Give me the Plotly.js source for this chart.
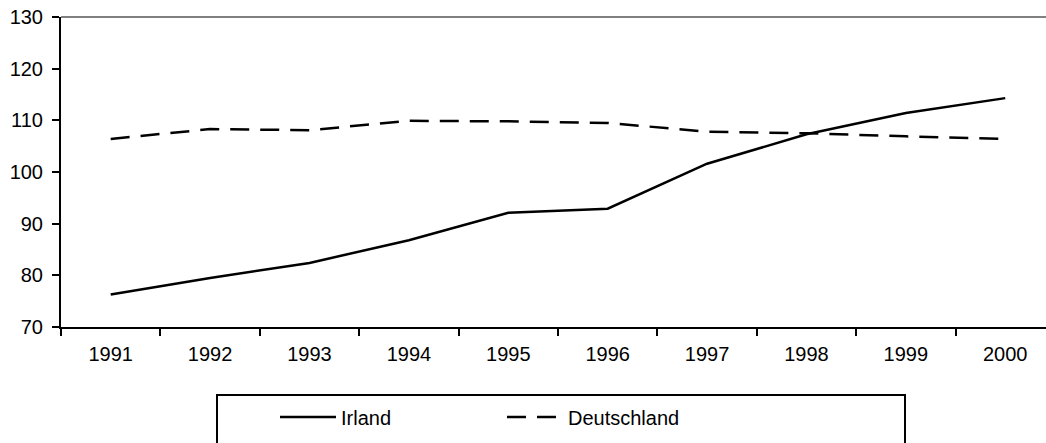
<!DOCTYPE html>
<html>
<head>
<meta charset="utf-8">
<script src="https://cdn.plot.ly/plotly-3.0.1.min.js"></script>
<style>html,body{margin:0;padding:0;background:#fff;}#chart{width:1046px;height:443px;}</style>
</head>
<body>
<div id="chart"></div>
<script>
const years = ["1991","1992","1993","1994","1995","1996","1997","1998","1999","2000"];
const irland = [76.3, 79.5, 82.4, 86.8, 92.1, 92.9, 101.6, 107.3, 111.4, 114.3];
const deutschland = [106.4, 108.3, 108.1, 109.9, 109.8, 109.5, 107.8, 107.5, 106.9, 106.4];
const yTicks = [70, 80, 90, 100, 110, 120, 130];

const traces = [
  {x: years, y: irland, name: "Irland", type: "scatter", mode: "lines",
   line: {color: "#000", width: 2.5, dash: "solid"}},
  {x: years, y: deutschland, name: "Deutschland", type: "scatter", mode: "lines",
   line: {color: "#000", width: 2.5, dash: "19px,11px"}}
];

const layout = {
  width: 1046, height: 443,
  margin: {l: 61, r: 0, t: 17, b: 116, pad: 0},
  paper_bgcolor: "#fff", plot_bgcolor: "#fff",
  font: {family: "Liberation Sans, Arial, sans-serif", size: 20, color: "#000"},
  showlegend: true,
  xaxis: {
    type: "category", range: [-0.5, 9.41], tickson: "boundaries",
    showgrid: false, zeroline: false, showline: true, linecolor: "#000", linewidth: 2,
    ticks: "outside", ticklen: 7, tickwidth: 2, tickcolor: "#000",
    ticklabelstandoff: 8,
    tickfont: {size: 20, color: "#000"}, fixedrange: true
  },
  yaxis: {
    range: [70, 130], tickmode: "array", tickvals: yTicks,
    showgrid: false, zeroline: false, showline: true, linecolor: "#000", linewidth: 2,
    ticks: "outside", ticklen: 7, tickwidth: 2, tickcolor: "#000",
    ticklabelstandoff: 5,
    tickfont: {size: 20, color: "#000"}, fixedrange: true
  },
  shapes: [
    {type: "line", xref: "paper", yref: "paper", x0: 0, x1: 1, y0: 1, y1: 1,
     line: {color: "#808080", width: 2}},
    {type: "rect", xref: "paper", yref: "paper",
     x0: (217 - 61) / 985, x1: (905 - 61) / 985,
     y0: (327 - 455) / 310, y1: (327 - 395) / 310,
     line: {color: "#000", width: 2}, fillcolor: "rgba(0,0,0,0)"}
  ],
  legend: {
    orientation: "h", xanchor: "left", yanchor: "middle",
    x: (275 - 61) / 985, y: (327 - 417) / 310,
    bgcolor: "rgba(0,0,0,0)", borderwidth: 0,
    itemwidth: 56, entrywidth: 156, entrywidthmode: "pixels",
    font: {size: 20, color: "#000"}, tracegroupgap: 0
  }
};

Plotly.newPlot("chart", traces, layout, {displayModeBar: false, staticPlot: true});
</script>
</body>
</html>
